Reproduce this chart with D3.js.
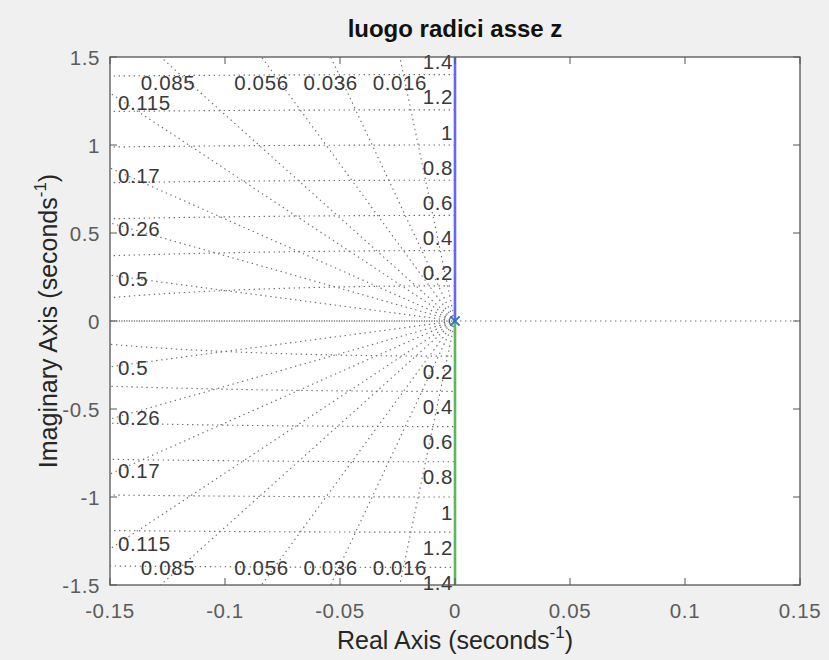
<!DOCTYPE html>
<html>
<head>
<meta charset="utf-8">
<script src="https://cdn.jsdelivr.net/npm/d3@7"></script>
<style>
  html, body { margin: 0; padding: 0; background: #f0f0f0; }
  svg { display: block; }
  text { font-family: "Liberation Sans", Arial, Helvetica, sans-serif; }
</style>
</head>
<body>
<svg id="chart" width="829" height="660"></svg>
<script>
// Root locus of a double pole at the origin: two branches along the imaginary axis
const poleRe = [0, 0];
const poleIm = [0, 0];
const branchUpperRe = [0, 0];
const branchUpperIm = [0, 1.5];
const branchLowerRe = [0, 0];
const branchLowerIm = [0, -1.5];

// s-plane grid: damping ratios and natural frequencies
const zetaValues = [0.016, 0.036, 0.056, 0.085, 0.115, 0.17, 0.26, 0.5];
const wnValues = [0.2, 0.4, 0.6, 0.8, 1, 1.2, 1.4];

// Axis limits and tick labels
const xDomain = [-0.15, 0.15];
const yDomain = [-1.5, 1.5];
const xTicks = [-0.15, -0.1, -0.05, 0, 0.05, 0.1, 0.15];
const yTicks = [-1.5, -1, -0.5, 0, 0.5, 1, 1.5];

const titleText = "luogo radici asse z";

const svg = d3.select("#chart");
const pLeft = 110, pRight = 800, pTop = 57, pBottom = 585;

const x = d3.scaleLinear().domain(xDomain).range([pLeft, pRight]);
const y = d3.scaleLinear().domain(yDomain).range([pBottom, pTop]);

// plot background
svg.append("rect")
  .attr("x", pLeft).attr("y", pTop)
  .attr("width", pRight - pLeft).attr("height", pBottom - pTop)
  .attr("fill", "#ffffff");

svg.append("defs").append("clipPath").attr("id", "plotClip")
  .append("rect")
  .attr("x", pLeft).attr("y", pTop)
  .attr("width", pRight - pLeft).attr("height", pBottom - pTop);

const grid = svg.append("g").attr("clip-path", "url(#plotClip)");
const gridColor = "#6e6e6e";
const gridDash = "1.4,3.6";
const gridWidth = 1.15;

// natural-frequency semicircles in the left half plane
const line = d3.line().x(d => x(d[0])).y(d => y(d[1]));
wnValues.forEach(wn => {
  const pts = d3.range(0, 401).map(i => {
    const phi = Math.PI / 2 + Math.PI * i / 400;
    return [wn * Math.cos(phi), wn * Math.sin(phi)];
  });
  grid.append("path")
    .attr("d", line(pts))
    .attr("fill", "none")
    .attr("stroke", gridColor)
    .attr("stroke-width", gridWidth)
    .attr("stroke-dasharray", gridDash);
});

// constant damping rays from the origin
const reach = 3;
zetaValues.forEach(z => {
  const s = Math.sqrt(1 - z * z);
  [1, -1].forEach(sign => {
    grid.append("path")
      .attr("d", line([[0, 0], [-z * reach, sign * s * reach]]))
      .attr("fill", "none")
      .attr("stroke", gridColor)
      .attr("stroke-width", gridWidth)
      .attr("stroke-dasharray", gridDash);
  });
});

// zeta = 1 ray along the negative real axis
grid.append("path")
  .attr("d", line([[0, 0], [xDomain[0], 0]]))
  .attr("fill", "none")
  .attr("stroke", "#333333")
  .attr("stroke-width", 1)
  .attr("stroke-dasharray", "1.2,1.3");

// real axis in the right half plane
grid.append("path")
  .attr("d", line([[0, 0], [xDomain[1], 0]]))
  .attr("fill", "none")
  .attr("stroke", gridColor)
  .attr("stroke-width", gridWidth)
  .attr("stroke-dasharray", gridDash);

// grid labels
const labelColor = "#3a3a3a";
const labelSize = 20.5;
const labelSpacing = 0.6;
const labels = svg.append("g");
const addLabel = (txt, px, py, anchor) => labels.append("text").text(txt)
  .attr("x", px).attr("y", py)
  .attr("text-anchor", anchor).attr("dominant-baseline", "central")
  .attr("font-size", labelSize).attr("letter-spacing", labelSpacing)
  .attr("fill", labelColor);

const xInset = xDomain[0] + 0.005;
zetaValues.forEach(z => {
  const s = Math.sqrt(1 - z * z);
  const t = Math.min(-xDomain[0] / z, yDomain[1] / s);
  const ex = -z * t, ey = s * t;
  const txt = String(z);
  if (ey >= yDomain[1] - 1e-9) {
    // ray leaves through the top / bottom edges
    const cx = Math.max(x(ex), pLeft + 58);
    addLabel(txt, cx, y(yDomain[1]) + 25, "middle");
    addLabel(txt, cx, y(yDomain[0]) - 18, "middle");
  } else {
    // ray leaves through the left edge: label sits on the ray just inside it
    const yi = xInset * (-s / z);
    addLabel(txt, pLeft + 8, y(yi) + 2, "start");
    addLabel(txt, pLeft + 8, y(-yi) + 2, "start");
  }
});

wnValues.forEach(wn => {
  addLabel(String(wn), x(0) - 2, y(wn) - 13, "end");
  addLabel(String(wn), x(0) - 2, y(-wn) + 15, "end");
});

// locus branches
const branches = [
  { re: branchLowerRe, im: branchLowerIm, color: "#5cb85c" },
  { re: branchUpperRe, im: branchUpperIm, color: "#6464ff" }
];
const plot = svg.append("g").attr("clip-path", "url(#plotClip)");
branches.forEach(b => {
  plot.append("path")
    .attr("d", line(b.re.map((r, i) => [r, b.im[i]])))
    .attr("fill", "none")
    .attr("stroke", b.color)
    .attr("stroke-width", 2.6);
});

// open-loop poles
const markerColors = ["#3aa860", "#2f6ee0"];
poleRe.forEach((r, i) => {
  const px = x(r), py = y(poleIm[i]), h = 4.5;
  plot.append("path")
    .attr("d", `M${px - h},${py - h}L${px + h},${py + h}M${px - h},${py + h}L${px + h},${py - h}`)
    .attr("stroke", markerColors[i])
    .attr("stroke-width", 1.6)
    .attr("fill", "none");
});

// axes frame and ticks
const axisColor = "#555555";
const tickColor = "#5c5c5c";
const tickSize = 20.5;
const tickLen = 7;
const axes = svg.append("g");
xTicks.forEach(v => {
  axes.append("line").attr("x1", x(v)).attr("x2", x(v))
    .attr("y1", pBottom).attr("y2", pBottom - tickLen)
    .attr("stroke", axisColor).attr("stroke-width", 1);
  axes.append("line").attr("x1", x(v)).attr("x2", x(v))
    .attr("y1", pTop).attr("y2", pTop + tickLen)
    .attr("stroke", axisColor).attr("stroke-width", 1);
  axes.append("text").text(String(v))
    .attr("x", x(v)).attr("y", pBottom + 33)
    .attr("text-anchor", "middle")
    .attr("font-size", tickSize).attr("letter-spacing", 0.6).attr("fill", tickColor);
});
yTicks.forEach(v => {
  axes.append("line").attr("x1", pLeft).attr("x2", pLeft + tickLen)
    .attr("y1", y(v)).attr("y2", y(v))
    .attr("stroke", axisColor).attr("stroke-width", 1);
  axes.append("line").attr("x1", pRight).attr("x2", pRight - tickLen)
    .attr("y1", y(v)).attr("y2", y(v))
    .attr("stroke", axisColor).attr("stroke-width", 1);
  axes.append("text").text(String(v))
    .attr("x", pLeft - 10).attr("y", y(v))
    .attr("text-anchor", "end").attr("dominant-baseline", "central")
    .attr("font-size", tickSize).attr("letter-spacing", 0.6).attr("fill", tickColor);
});
axes.append("rect")
  .attr("x", pLeft).attr("y", pTop)
  .attr("width", pRight - pLeft).attr("height", pBottom - pTop)
  .attr("fill", "none").attr("stroke", axisColor).attr("stroke-width", 1.3);

// title and axis labels
svg.append("text").text(titleText)
  .attr("x", (pLeft + pRight) / 2).attr("y", 37)
  .attr("text-anchor", "middle")
  .attr("font-size", 24).attr("font-weight", "bold").attr("fill", "#111111");

const xl = svg.append("text")
  .attr("x", (pLeft + pRight) / 2).attr("y", 649)
  .attr("text-anchor", "middle")
  .attr("font-size", 25).attr("fill", "#262626");
xl.append("tspan").text("Real Axis (seconds");
xl.append("tspan").text("-1").attr("font-size", 17).attr("dy", -11);
xl.append("tspan").text(")").attr("dy", 11);

const yl = svg.append("text")
  .attr("transform", `translate(57,${(pTop + pBottom) / 2}) rotate(-90)`)
  .attr("text-anchor", "middle")
  .attr("font-size", 25).attr("fill", "#262626");
yl.append("tspan").text("Imaginary Axis (seconds");
yl.append("tspan").text("-1").attr("font-size", 17).attr("dy", -11);
yl.append("tspan").text(")").attr("dy", 11);
</script>
</body>
</html>
